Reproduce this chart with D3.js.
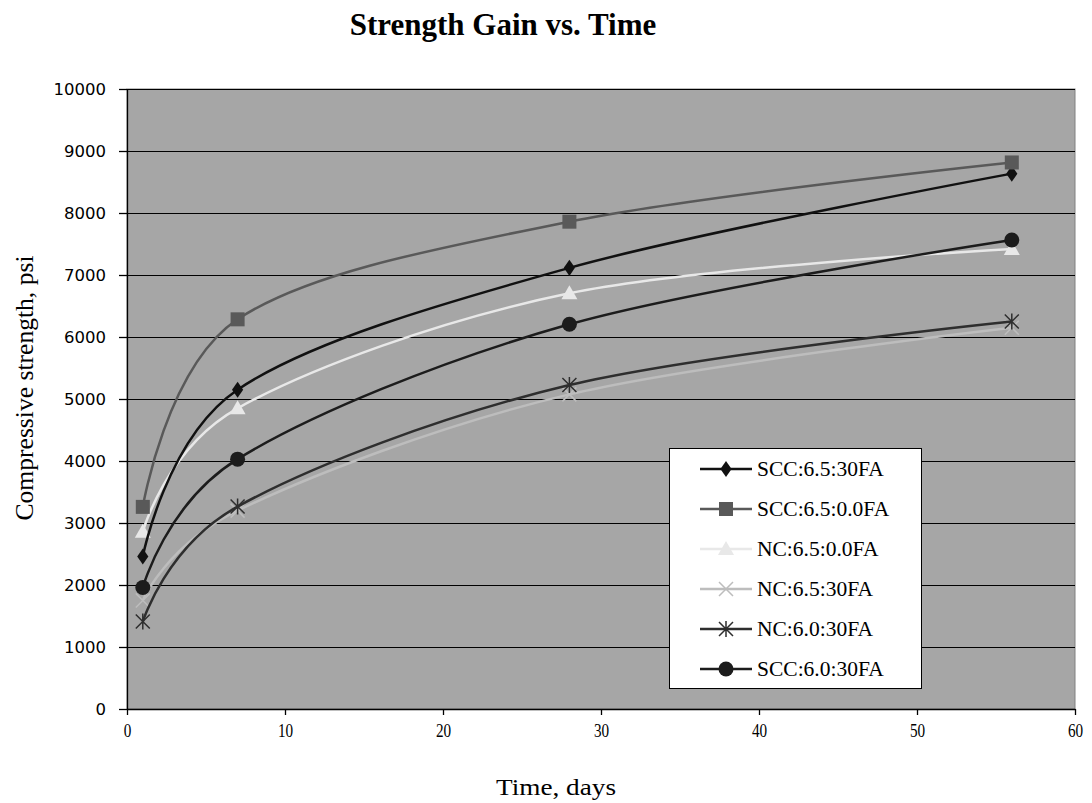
<!DOCTYPE html>
<html><head><meta charset="utf-8">
<script src="https://cdn.jsdelivr.net/npm/d3@7"></script>
<style>body{margin:0;background:#fff;} svg{display:block;}</style>
</head><body>
<svg id="c" width="1092" height="803"></svg>
<script>
const days = [1, 7, 28, 56];
const seriesNames = ["SCC:6.5:30FA","SCC:6.5:0.0FA","NC:6.5:0.0FA","NC:6.5:30FA","NC:6.0:30FA","SCC:6.0:30FA"];
const scc65_30 = [2460, 5150, 7115, 8635];
const scc65_00 = [3260, 6285, 7860, 8815];
const nc65_00  = [2860, 4850, 6705, 7420];
const nc65_30  = [1750, 3200, 5075, 6150];
const nc60_30  = [1410, 3265, 5225, 6250];
const scc60_30 = [1960, 4030, 6205, 7565];
const xTicks = [0,10,20,30,40,50,60];
const yTicks = [0,1000,2000,3000,4000,5000,6000,7000,8000,9000,10000];

const seriesVals = [scc65_30, scc65_00, nc65_00, nc65_30, nc60_30, scc60_30];
const colors = ["#111111","#595959","#e8e8e8","#bdbdbd","#2e2e2e","#1c1c1c"];
const markers = ["diamond","square","triangle","x","star","circle"];

const svg = d3.select("#c");
const L = 127, R = 1075, T = 89, B = 709;
const x = d3.scaleLinear().domain([0,60]).range([L,R]);
const y = d3.scaleLinear().domain([0,10000]).range([B,T]);

// plot area
svg.append("rect").attr("x",L).attr("y",T).attr("width",R-L).attr("height",B-T)
  .attr("fill","#a6a6a6").attr("stroke","#808080").attr("stroke-width",1);

// gridlines
svg.append("g").selectAll("line").data(yTicks.filter(d=>d>0)).join("line")
  .attr("x1",L).attr("x2",R).attr("y1",d=>Math.round(y(d))+0.5).attr("y2",d=>Math.round(y(d))+0.5)
  .attr("stroke","#000").attr("stroke-width",1.2);

// axes
const yAxis = d3.axisLeft(y).tickValues(yTicks).tickFormat(d3.format("d")).tickSize(8).tickSizeOuter(0).tickPadding(13);
const gy = svg.append("g").attr("transform",`translate(${L},0)`).call(yAxis);
gy.attr("font-size",null).attr("font-family",null);
gy.selectAll("text").attr("font-family","DejaVu Sans").attr("font-size",16.5).attr("fill","#000");
gy.selectAll("line,path").attr("stroke","#000").attr("stroke-width",1.3);

const xAxis = d3.axisBottom(x).tickValues(xTicks).tickSize(6).tickSizeOuter(0).tickPadding(9);
const gx = svg.append("g").attr("transform",`translate(0,${B})`).call(xAxis);
gx.attr("font-size",null).attr("font-family",null);
gx.selectAll("text").attr("font-family","Liberation Serif").attr("font-size",19).attr("fill","#000")
  .attr("transform","scale(0.8,1)");
gx.selectAll("line,path").attr("stroke","#000").attr("stroke-width",1.3);

// titles
svg.append("text").attr("x",503).attr("y",35).attr("text-anchor","middle")
  .attr("font-family","Liberation Serif").attr("font-weight","bold").attr("font-size",31)
  .text("Strength Gain vs. Time");
svg.append("text").attr("x",556).attr("y",795).attr("text-anchor","middle")
  .attr("font-family","Liberation Serif").attr("font-size",23).attr("textLength",120).attr("lengthAdjust","spacingAndGlyphs")
  .text("Time, days");
svg.append("text").attr("transform","translate(33,388) rotate(-90)").attr("text-anchor","middle")
  .attr("font-family","Liberation Serif").attr("font-size",25).attr("textLength",265).attr("lengthAdjust","spacingAndGlyphs")
  .text("Compressive strength, psi");

function drawMarker(g, type, cx, cy, color){
  if(type==="diamond"){
    g.append("path").attr("d",d3.symbol(d3.symbolDiamond,75)()).attr("transform",`translate(${cx},${cy}) scale(1.2,1)`).attr("fill",color);
  } else if(type==="square"){
    g.append("rect").attr("x",cx-7).attr("y",cy-7).attr("width",14).attr("height",14).attr("fill",color);
  } else if(type==="triangle"){
    g.append("path").attr("d",`M${cx},${cy-8}L${cx+8},${cy+6}L${cx-8},${cy+6}Z`).attr("fill",color);
  } else if(type==="circle"){
    g.append("circle").attr("cx",cx).attr("cy",cy).attr("r",7.5).attr("fill",color);
  } else if(type==="x"){
    g.append("path").attr("d",`M${cx-7},${cy-7}L${cx+7},${cy+7}M${cx-7},${cy+7}L${cx+7},${cy-7}`).attr("stroke",color).attr("stroke-width",1.5);
  } else if(type==="star"){
    g.append("path").attr("d",`M${cx-7},${cy-7}L${cx+7},${cy+7}M${cx-7},${cy+7}L${cx+7},${cy-7}M${cx},${cy-8}L${cx},${cy+8}`).attr("stroke",color).attr("stroke-width",1.5);
  }
}

const line = d3.line().x((d,i)=>x(days[i])).y(d=>y(d)).curve(d3.curveCardinal.tension(0));
const drawOrder = [3,2,4,5,0,1];
const gs = svg.append("g");
drawOrder.forEach(si=>{
  const g = gs.append("g");
  g.append("path").attr("d",line(seriesVals[si])).attr("fill","none").attr("stroke",colors[si]).attr("stroke-width",2.5);
  seriesVals[si].forEach((v,i)=>drawMarker(g, markers[si], x(days[i]), y(v), colors[si]));
});

// legend
const lg = svg.append("g");
lg.append("rect").attr("x",669.5).attr("y",448.5).attr("width",252).attr("height",240)
  .attr("fill","#fff").attr("stroke","#000").attr("stroke-width",1);
seriesNames.forEach((n,i)=>{
  const cy = 469 + i*40;
  lg.append("line").attr("x1",700).attr("x2",752).attr("y1",cy).attr("y2",cy).attr("stroke",colors[i]).attr("stroke-width",2.5);
  drawMarker(lg, markers[i], 726, cy, colors[i]);
  lg.append("text").attr("x",757).attr("y",cy+7).attr("font-family","Liberation Serif").attr("font-size",21.5).text(n);
});
</script>
</body></html>
